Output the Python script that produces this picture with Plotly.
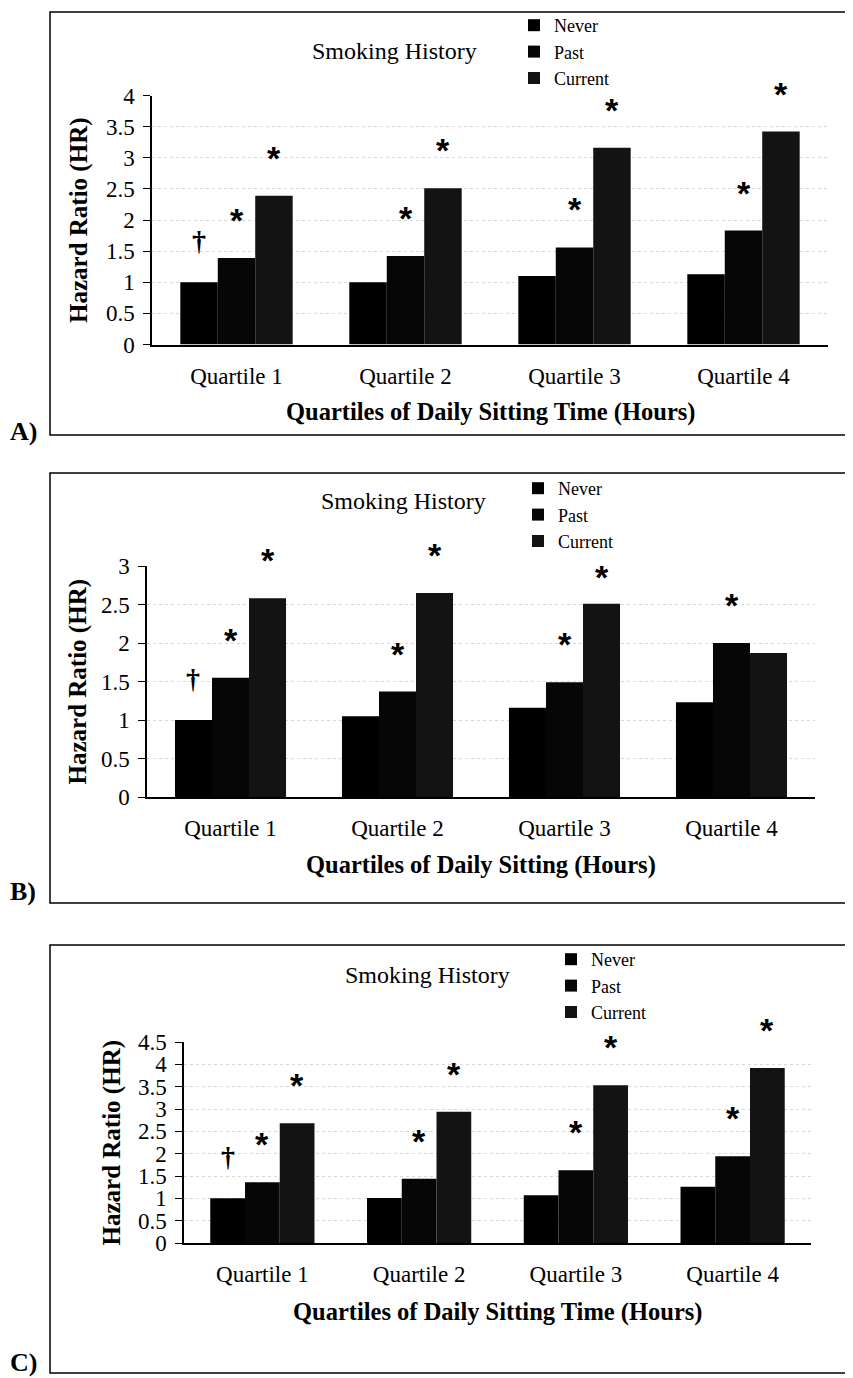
import plotly.graph_objects as go

# page has an 8px body margin; figure sized to fit the window
PAGE_OFF = 8
W, H = 853 - PAGE_OFF, 1378 - PAGE_OFF

quartiles = ["Quartile 1", "Quartile 2", "Quartile 3", "Quartile 4"]
groups = ["Never", "Past", "Current"]

# Panel A values (Hazard Ratio)
a_never = [1.00, 1.00, 1.10, 1.13]
a_past = [1.39, 1.42, 1.56, 1.83]
a_current = [2.39, 2.51, 3.16, 3.42]
# Panel B values
b_never = [1.00, 1.05, 1.16, 1.23]
b_past = [1.55, 1.37, 1.49, 2.00]
b_current = [2.58, 2.65, 2.51, 1.87]
# Panel C values
c_never = [1.00, 1.01, 1.07, 1.26]
c_past = [1.36, 1.44, 1.63, 1.94]
c_current = [2.68, 2.94, 3.53, 3.92]

# significance marks
a_never_marks = ["†", "", "", ""]
a_past_marks = ["*", "*", "*", "*"]
a_current_marks = ["*", "*", "*", "*"]
b_never_marks = ["†", "", "", ""]
b_past_marks = ["*", "*", "*", "*"]
b_current_marks = ["*", "*", "*", ""]
c_never_marks = ["†", "", "", ""]
c_past_marks = ["*", "*", "*", "*"]
c_current_marks = ["*", "*", "*", "*"]

a_yticks = [0, 0.5, 1, 1.5, 2, 2.5, 3, 3.5, 4]
b_yticks = [0, 0.5, 1, 1.5, 2, 2.5, 3]
c_yticks = [0, 0.5, 1, 1.5, 2, 2.5, 3, 3.5, 4, 4.5]

x_titles = ["Quartiles of Daily Sitting Time (Hours)",
            "Quartiles of Daily Sitting (Hours)",
            "Quartiles of Daily Sitting Time (Hours)"]
y_title = "Hazard Ratio (HR)"
legend_title = "Smoking History"
panel_labels = ["A)", "B)", "C)"]

colors = {"Never": "#000000", "Past": "#060606", "Current": "#131313"}
SERIF = "Liberation Serif"
BARGAP = 0.335
# pixel lift of marks above bar tops (panel, series, quartile) exceptions
MARK_LIFT = {"*": 38, "†": 42}
LIFT_OVERRIDE = {(1, 2, 2): 27}


def px_x(v):
    return (v - PAGE_OFF) / W


def px_y(v):
    return 1 - (v - PAGE_OFF) / H


panels = [
    dict(suffix="", vals=[a_never, a_past, a_current],
         marks=[a_never_marks, a_past_marks, a_current_marks], ticks=a_yticks,
         xl=152, xr=828, y0=344.5, ytop=95.5, box=(50, 12, 435),
         ytitle_x=79, xlab_y=412, label_y=431, sh=(394, 51), leg=(514, 7)),
    dict(suffix="2", vals=[b_never, b_past, b_current],
         marks=[b_never_marks, b_past_marks, b_current_marks], ticks=b_yticks,
         xl=147, xr=815, y0=797, ytop=566, box=(50, 473, 903),
         ytitle_x=77, xlab_y=865, label_y=891, sh=(403, 501), leg=(518, 470)),
    dict(suffix="3", vals=[c_never, c_past, c_current],
         marks=[c_never_marks, c_past_marks, c_current_marks], ticks=c_yticks,
         xl=184, xr=811, y0=1243, ytop=1042, box=(50, 945, 1373),
         ytitle_x=111, xlab_y=1312, label_y=1362, sh=(427, 975), leg=(551, 941)),
]

fig = go.Figure()
annotations = []
shapes = []
layout = {}
w = (1 - BARGAP) / 3
offsets = [-w, 0, w]

for pi, p in enumerate(panels):
    s = p["suffix"]
    xa, ya = "x" + s, "y" + s
    legname = "legend" + s
    for gi, g in enumerate(groups):
        fig.add_trace(go.Bar(
            x=quartiles, y=p["vals"][gi], name=g,
            marker=dict(color=colors[g], line=dict(width=0)),
            xaxis=xa, yaxis=ya, legend=legname, showlegend=True,
        ))
        for qi, m in enumerate(p["marks"][gi]):
            if not m:
                continue
            if m == "*":
                font = dict(family="Liberation Sans", size=34, color="black")
            else:
                font = dict(family=SERIF, size=28, color="black")
            ysh = LIFT_OVERRIDE.get((pi, gi, qi), MARK_LIFT[m])
            annotations.append(dict(
                x=qi + offsets[gi], y=p["vals"][gi][qi], xref=xa, yref=ya,
                text="<b>" + m + "</b>", showarrow=False, font=font,
                xanchor="center", yanchor="middle", yshift=ysh))
    ymax = p["ticks"][-1]
    layout["xaxis" + s] = dict(
        domain=[px_x(p["xl"]), px_x(p["xr"])], anchor=ya,
        type="category", showline=True, linecolor="black", linewidth=1.5,
        ticks="", showgrid=False, zeroline=False, automargin=False,
        tickfont=dict(family=SERIF, size=23, color="black"),
        ticklabelstandoff=10,
    )
    layout["yaxis" + s] = dict(
        domain=[px_y(p["y0"]), px_y(p["ytop"])], anchor=xa,
        range=[0, ymax], tickvals=p["ticks"], automargin=False,
        showline=True, linecolor="black", linewidth=1.5,
        ticks="outside", ticklen=7, tickcolor="black", tickwidth=1.2,
        showgrid=True, gridcolor="#d8d8d8", griddash="dot", gridwidth=1,
        zeroline=False, ticklabelstandoff=4,
        tickfont=dict(family=SERIF, size=23, color="black"),
    )
    layout[legname] = dict(
        x=px_x(p["leg"][0]), y=px_y(p["leg"][1]), xanchor="left", yanchor="top",
        bgcolor="rgba(0,0,0,0)", traceorder="normal", tracegroupgap=0,
        itemwidth=30, font=dict(family=SERIF, size=18, color="black"),
    )
    # y-axis title
    annotations.append(dict(
        x=px_x(p["ytitle_x"]), y=px_y((p["y0"] + p["ytop"]) / 2),
        xref="paper", yref="paper", text="<b>" + y_title + "</b>",
        textangle=-90, showarrow=False,
        font=dict(family=SERIF, size=25, color="black"),
        xanchor="center", yanchor="middle"))
    # x-axis title
    annotations.append(dict(
        x=px_x((p["xl"] + p["xr"]) / 2), y=px_y(p["xlab_y"]),
        xref="paper", yref="paper", text="<b>" + x_titles[pi] + "</b>",
        showarrow=False, font=dict(family=SERIF, size=24.5, color="black"),
        xanchor="center", yanchor="middle"))
    # "Smoking History"
    annotations.append(dict(
        x=px_x(p["sh"][0]), y=px_y(p["sh"][1]), xref="paper", yref="paper",
        text=legend_title, showarrow=False,
        font=dict(family=SERIF, size=24, color="black"),
        xanchor="center", yanchor="middle"))
    # panel label
    annotations.append(dict(
        x=px_x(23), y=px_y(p["label_y"]), xref="paper", yref="paper",
        text="<b>" + panel_labels[pi] + "</b>", showarrow=False,
        font=dict(family=SERIF, size=26, color="black"),
        xanchor="center", yanchor="middle"))
    # frame
    bx, bt, bb = p["box"]
    shapes.append(dict(type="rect", xref="paper", yref="paper",
                       x0=px_x(bx), x1=1.05, y0=px_y(bb), y1=px_y(bt),
                       line=dict(color="black", width=1.5),
                       fillcolor="rgba(0,0,0,0)", layer="below"))

fig.update_layout(
    width=W, height=H, autosize=False,
    margin=dict(l=0, r=0, t=0, b=0, autoexpand=False),
    paper_bgcolor="white", plot_bgcolor="white",
    barmode="group", bargap=BARGAP, bargroupgap=0,
    annotations=annotations, shapes=shapes,
    **layout,
)

fig.write_html("out.html")
